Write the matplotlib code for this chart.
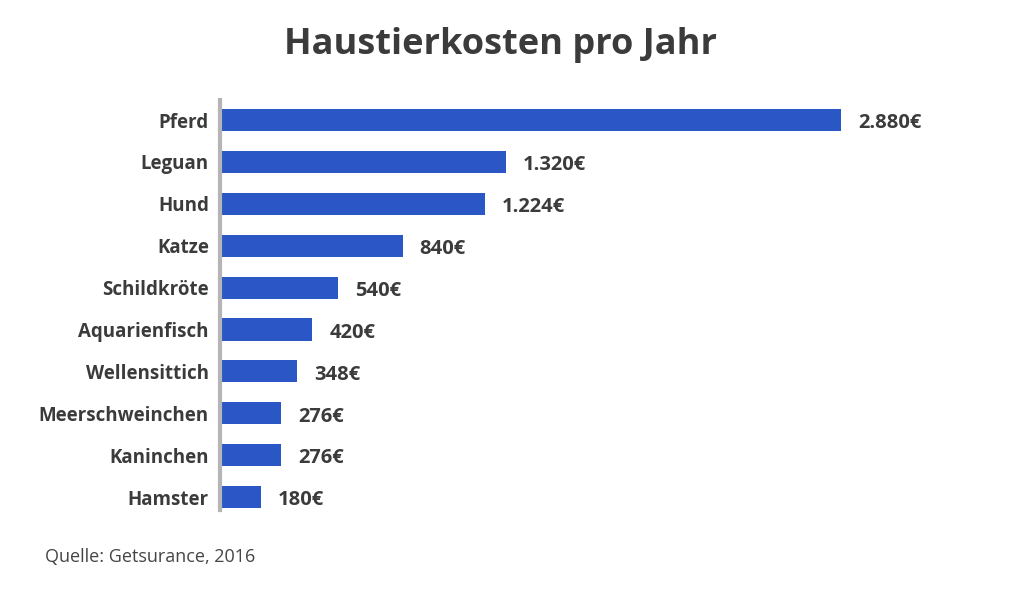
import matplotlib.pyplot as plt

plt.rcParams['font.family'] = ['Open Sans', 'DejaVu Sans']

categories = ["Pferd", "Leguan", "Hund", "Katze", "Schildkröte", "Aquarienfisch",
              "Wellensittich", "Meerschweinchen", "Kaninchen", "Hamster"]
costs = [2880, 1320, 1224, 840, 540, 420, 348, 276, 276, 180]
value_labels = ["2.880€", "1.320€", "1.224€", "840€", "540€", "420€",
                "348€", "276€", "276€", "180€"]

text_color = "#3b3b3b"
bar_color = "#2a57c5"

fig = plt.figure(figsize=(10.24, 6.03), dpi=100)
# axes in pixel terms: left 220, bottom 510, width 740, top 100
ax = fig.add_axes([220 / 1024, 93 / 603, 740 / 1024, 410 / 603])

px_per_unit = 619 / 2880
x0 = -2 / px_per_unit
ax.set_xlim(x0, x0 + 740 / px_per_unit)

ypos = list(range(len(categories)))
ax.barh(ypos, costs, height=0.53, color=bar_color, zorder=2)
ax.set_ylim(9.31, -0.48)

for y, v, lab in zip(ypos, costs, value_labels):
    ax.text(v + 17 / px_per_unit, y + 0.08, lab, va="center", ha="left",
            fontsize=14.5, fontweight="bold", color=text_color)

ax.set_yticks(ypos)
ax.set_yticklabels(categories, fontsize=13.5, fontweight="bold", color=text_color)
ax.tick_params(axis="y", length=0, pad=8)
ax.set_xticks([])

for s in ["top", "right", "bottom"]:
    ax.spines[s].set_visible(False)
ax.spines["left"].set_color("#b5b5b5")
ax.spines["left"].set_linewidth(3)

fig.text(501 / 1024, 1 - 45 / 603, "Haustierkosten pro Jahr", ha="center", va="center",
         fontsize=26, fontweight="bold", color=text_color)
fig.text(45 / 1024, 1 - 557 / 603, "Quelle: Getsurance, 2016", ha="left", va="center",
         fontsize=13, color="#454545")

fig.savefig("out.png", dpi=100, facecolor="white")
